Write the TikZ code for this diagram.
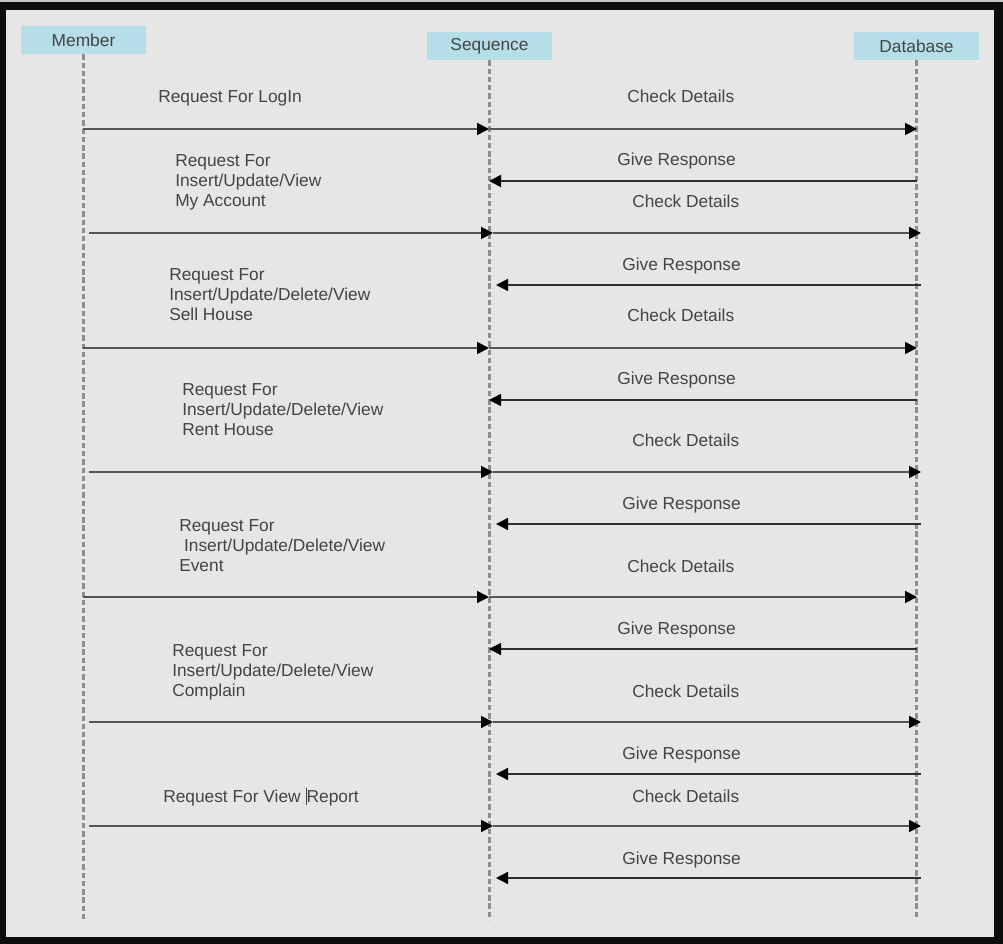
\documentclass[tikz,border=0pt]{standalone}
\usepackage{fontspec}
\setmainfont{Liberation Sans}
\usetikzlibrary{arrows.meta}
\definecolor{framec}{HTML}{0D0D0D}
\definecolor{bgc}{HTML}{E6E6E6}
\definecolor{topc}{HTML}{C8C8C8}
\definecolor{boxc}{HTML}{B6DEE8}
\definecolor{txtc}{HTML}{444444}
\definecolor{lifec}{HTML}{8E8E8E}
\definecolor{fwdc}{HTML}{555555}
\definecolor{backc}{HTML}{2E2E2E}
\begin{document}
\begin{tikzpicture}[x=0.75pt,y=-0.75pt,
  actor/.style={fill=boxc, text=txtc, minimum width=93.75pt, minimum height=21pt, inner sep=0pt, font=\fontsize{13}{15}\selectfont},
  lifeline/.style={draw=lifec, line width=1.6pt, dash pattern=on 4pt off 2.2pt},
  fwdarrow/.style={draw=fwdc, line width=1.4pt, -{Triangle[length=9pt,width=9pt,fill=black,color=black]}},
  backarrow/.style={draw=backc, line width=1.1pt, -{Triangle[length=9pt,width=9pt,fill=black,color=black]}},
  lbl/.style={anchor=base west, inner sep=0pt, text=txtc, align=left, font=\fontsize{13}{15}\selectfont}]
\useasboundingbox (0,0) rectangle (1003,944);
\fill[framec] (0,0) rectangle (1003,944);
\fill[topc] (0,0) rectangle (1003,2);
\fill[bgc] (6,10) rectangle (994,937);

\node[actor] (m) at (83.5,40) {Member};
\node[actor] (s) at (489.5,46) {Sequence};
\node[actor] (d) at (916.5,46) {Database};
\coordinate (mend) at (83.5,920);
\coordinate (send) at (489.5,920);
\coordinate (dend) at (916.5,920);
\draw[lifeline] (m.south) -- (mend);
\draw[lifeline] (s.south) -- (send);
\draw[lifeline] (d.south) -- (dend);

\foreach \i/\y/\xa/\xb/\xc/\xd in {1/129/83/489/917/489, 2/233/89/493/921/496, 3/348/83/489/917/489, 4/472/89/493/921/496, 5/597/83/489/917/489, 6/722/89/493/921/496, 7/826/89/493/921/496}{
  \coordinate (ms\i) at (\xa,\y);
  \coordinate (sq\i) at (\xb,\y);
  \coordinate (db\i) at (\xc,\y);
  \coordinate (dbr\i) at (\xc,{\y+52});
  \coordinate (sqr\i) at (\xd,{\y+52});
  \draw[fwdarrow] (ms\i) -- (sq\i);
  \draw[fwdarrow] (sq\i) -- (db\i);
  \draw[backarrow] (dbr\i) -- (sqr\i);
}

% member requests (base anchor = baseline of last line)
\node[lbl] (r1) at (158,103) {Request For LogIn};
\node[lbl] (r2) at (175,207) {Request For\\Insert/Update/View\\My Account};
\node[lbl] (r3) at (169,321) {Request For\\Insert/Update/Delete/View\\Sell House};
\node[lbl] (r4) at (182,436) {Request For\\Insert/Update/Delete/View\\Rent House};
\node[lbl] (r5) at (179,571) {Request For\\\ Insert/Update/Delete/View\\Event};
\node[lbl] (r6) at (172,696) {Request For\\Insert/Update/Delete/View\\Complain};
\node[lbl] (r7) at (163,802) {Request For View \rule[-2.5pt]{0.8pt}{13pt}Report};

% check details
\node[lbl] (c1) at (627,103) {Check Details};
\node[lbl] (c2) at (632,208) {Check Details};
\node[lbl] (c3) at (627,322) {Check Details};
\node[lbl] (c4) at (632,447) {Check Details};
\node[lbl] (c5) at (627,572) {Check Details};
\node[lbl] (c6) at (632,697) {Check Details};
\node[lbl] (c7) at (632,802) {Check Details};

% give response
\node[lbl] (g1) at (617,166) {Give Response};
\node[lbl] (g2) at (622,271) {Give Response};
\node[lbl] (g3) at (617,385) {Give Response};
\node[lbl] (g4) at (622,509) {Give Response};
\node[lbl] (g5) at (617,634) {Give Response};
\node[lbl] (g6) at (622,759) {Give Response};
\node[lbl] (g7) at (622,864) {Give Response};
\end{tikzpicture}
\end{document}
